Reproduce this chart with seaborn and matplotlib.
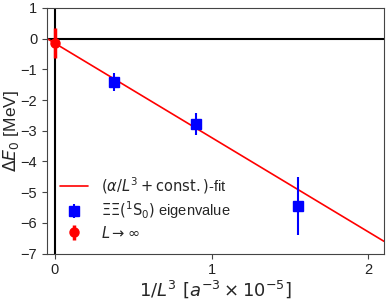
import matplotlib
matplotlib.use("Agg")
import matplotlib.pyplot as plt
import seaborn as sns
import numpy as np

# data
inv_L3 = [0.38, 0.90, 1.55]
energy = [-1.42, -2.78, -5.45]
energy_err = [0.30, 0.35, 0.95]

inf_x = [0.0]
inf_y = [-0.15]
inf_err = [0.48]

fit_x = [-0.05, 2.1]
fit_const = -0.15
fit_slope = -3.07

sns.set_style("ticks")
plt.rcParams['font.family'] = ['Liberation Sans', 'DejaVu Sans']
plt.rcParams['mathtext.fontset'] = 'dejavusans'

fig, ax = plt.subplots(figsize=(3.91, 3.02), dpi=100)

ax.axhline(0, color='black', lw=1.5, zorder=1)
ax.axvline(0, color='black', lw=1.5, zorder=1)

fx = np.array(fit_x)
ax.plot(fx, fit_const + fit_slope * fx, color='red', lw=1.2,
        label=r'$(\alpha/L^3 + \mathrm{const.})$-fit', zorder=2)
ax.errorbar(inv_L3, energy, yerr=energy_err, fmt='s', color='blue',
            ms=6.5, elinewidth=1.5, label=r'$\Xi\Xi(^1\mathrm{S}_0)$ eigenvalue', zorder=3)
ax.errorbar(inf_x, inf_y, yerr=inf_err, fmt='o', color='red',
            ms=6.5, elinewidth=2.5, label=r'$L \to \infty$', zorder=4)

ax.set_xlim(-0.05, 2.1)
ax.set_ylim(-7, 1)
ax.set_xticks([0, 1, 2])
ax.set_yticks(range(-7, 2))
ax.tick_params(labelsize=10.5, length=3.5, color='#444444', colors='#222222')
ax.set_xlabel(r'$1/L^3\ [a^{-3}\times10^{-5}]$', fontsize=13, labelpad=1)
ax.set_ylabel(r'$\Delta E_0$ [MeV]', fontsize=12.5, labelpad=0)
for s in ax.spines.values():
    s.set_color('#444444')

ax.legend(loc='lower left', frameon=False, fontsize=10.5, labelspacing=0.25,
          handlelength=1.9, handletextpad=0.9)

fig.subplots_adjust(left=0.12, right=0.982, top=0.974, bottom=0.16)
fig.savefig('out.png', dpi=100)
